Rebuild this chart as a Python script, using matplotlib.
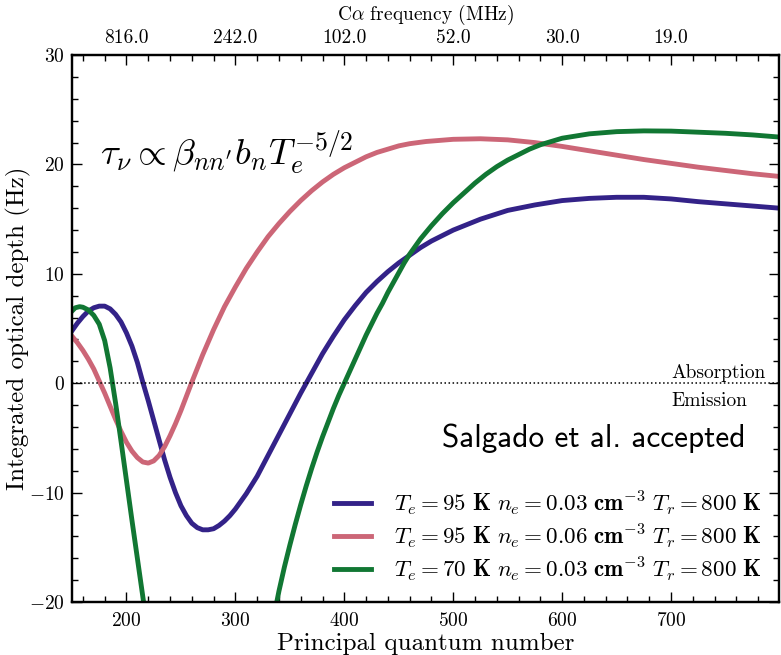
import matplotlib

matplotlib.use("Agg")
import matplotlib.pyplot as plt
import numpy as np
from matplotlib.ticker import MultipleLocator, FixedLocator

plt.rcParams["font.family"] = "cmr10"
plt.rcParams["mathtext.fontset"] = "cm"
plt.rcParams["axes.formatter.use_mathtext"] = True

# Te = 95 K, ne = 0.03
n_blue = [150, 155, 160, 165, 170, 175, 180, 185, 190, 195, 200, 205, 210, 215, 220,
          225, 230, 235, 240, 245, 250, 255, 260, 265, 270, 275, 280, 285, 290, 295,
          300, 310, 320, 330, 340, 350, 360, 370, 380, 390, 400, 410, 420, 430, 440,
          450, 460, 470, 480, 490, 500, 525, 550, 575, 600, 625, 650, 675, 700, 725,
          750, 775, 800]
tau_blue = [4.8, 5.5, 6.1, 6.6, 6.9, 7.05, 7.05, 6.8, 6.3, 5.6, 4.6, 3.4, 1.9, 0.1, -1.6,
            -3.4, -5.2, -7.0, -8.6, -10.0, -11.2, -12.1, -12.8, -13.2, -13.4, -13.4, -13.3, -13.0, -12.6, -12.1,
            -11.5, -10.1, -8.5, -6.6, -4.7, -2.8, -0.9, 0.9, 2.7, 4.3, 5.8, 7.1, 8.3, 9.3, 10.2,
            11.0, 11.7, 12.4, 13.0, 13.5, 14.0, 15.0, 15.8, 16.3, 16.7, 16.9, 17.0, 17.0, 16.85, 16.6,
            16.4, 16.2, 16.0]

# Te = 95 K, ne = 0.06
n_pink = [150, 155, 160, 165, 170, 175, 180, 185, 190, 195, 200, 205, 210, 215, 220,
          225, 230, 235, 240, 245, 250, 255, 260, 270, 280, 290, 300, 310, 320, 330,
          340, 350, 360, 370, 380, 390, 400, 410, 420, 430, 440, 450, 460, 475, 500,
          525, 550, 575, 600, 625, 650, 675, 700, 725, 750, 775, 800]
tau_pink = [4.3, 3.7, 3.0, 2.2, 1.3, 0.2, -0.9, -2.1, -3.3, -4.4, -5.4, -6.2, -6.8, -7.2, -7.3,
            -7.1, -6.6, -5.8, -4.8, -3.7, -2.5, -1.2, 0.1, 2.6, 4.9, 7.0, 8.8, 10.5, 12.0, 13.4,
            14.6, 15.7, 16.7, 17.6, 18.4, 19.1, 19.7, 20.2, 20.7, 21.1, 21.4, 21.7, 21.9, 22.1, 22.3,
            22.35, 22.25, 22.0, 21.65, 21.25, 20.85, 20.45, 20.1, 19.75, 19.45, 19.15, 18.9]

# Te = 70 K, ne = 0.03 (runs off the bottom between ~216 and ~338)
n_green = [150, 153, 157, 160, 165, 170, 175, 180, 185, 190, 195, 200, 205, 210, 215,
           220, 280, 335, 340, 345, 350, 355, 360, 365, 370, 375, 380, 385, 390, 395,
           400, 405, 410, 415, 420, 425, 430, 435, 440, 445, 450, 455, 460, 470, 480,
           490, 500, 510, 520, 530, 540, 550, 560, 570, 580, 590, 600, 625, 650, 675,
           700, 725, 750, 775, 800]
tau_green = [6.6, 6.9, 7.0, 6.95, 6.7, 6.2, 5.4, 3.9, 1.4, -1.8, -5.3, -8.9, -12.5, -16.0, -19.5,
             -23.0, np.nan, -21.5, -19.0, -16.8, -14.8, -12.9, -11.1, -9.4, -7.8, -6.3, -4.9, -3.6, -2.3, -1.1,
             0.0, 1.1, 2.2, 3.3, 4.4, 5.4, 6.4, 7.3, 8.3, 9.2, 10.1, 11.0, 11.8, 13.2, 14.4,
             15.5, 16.5, 17.4, 18.3, 19.1, 19.8, 20.4, 20.9, 21.4, 21.8, 22.1, 22.4, 22.8, 23.0, 23.07,
             23.05, 22.95, 22.85, 22.7, 22.5]

labels = [
    r"$T_e = 95\ \mathbf{K}\ n_e = 0.03\ \mathbf{cm}^{-3}\ T_r = 800\ \mathbf{K}$",
    r"$T_e = 95\ \mathbf{K}\ n_e = 0.06\ \mathbf{cm}^{-3}\ T_r = 800\ \mathbf{K}$",
    r"$T_e = 70\ \mathbf{K}\ n_e = 0.03\ \mathbf{cm}^{-3}\ T_r = 800\ \mathbf{K}$",
]
colors = ["#332288", "#CC6677", "#117733"]

top_ticks = [200, 300, 400, 500, 600, 700]
top_labels = ["816.0", "242.0", "102.0", "52.0", "30.0", "19.0"]

fig = plt.figure(figsize=(7.81, 6.55), dpi=100)
ax = fig.add_axes([0.0922, 0.0809, 0.9058, 0.835])

ax.plot(n_blue, tau_blue, color=colors[0], lw=3.5, label=labels[0])
ax.plot(n_pink, tau_pink, color=colors[1], lw=3.5, label=labels[1])
ax.plot(n_green, tau_green, color=colors[2], lw=3.5, label=labels[2])
ax.axhline(0, color="black", ls=":", lw=1.1)

ax.set_xlim(150, 799.5)
ax.set_ylim(-20, 30)
ax.xaxis.set_major_locator(MultipleLocator(100))
ax.xaxis.set_minor_locator(MultipleLocator(20))
ax.yaxis.set_major_locator(MultipleLocator(10))
ax.yaxis.set_minor_locator(MultipleLocator(2))
ax.tick_params(which="both", direction="in", right=True, labelsize=14)
ax.tick_params(which="major", length=7, width=1)
ax.tick_params(which="minor", length=4, width=1)
ax.tick_params(axis="x", pad=7)
ax.tick_params(axis="y", pad=5)
for s in ax.spines.values():
    s.set_linewidth(1.6)

ax.set_xlabel("Principal quantum number", fontsize=18, labelpad=2)
ax.set_ylabel("Integrated optical depth (Hz)", fontsize=18)
ax.yaxis.set_label_coords(-0.058, 0.5)

ax.text(0.04, 0.80, r"$\tau_\nu \propto \beta_{nn'} b_n T_e^{-5/2}$", transform=ax.transAxes,
        fontsize=26.5)
ax.text(700, 0.5, "Absorption", ha="left", va="baseline", fontsize=14)
ax.text(700, -0.8, "Emission", ha="left", va="top", fontsize=14)
ax.text(629, -5.0, "Salgado et al. accepted", ha="center", va="center",
        fontsize=22.5, family="cmss10")

leg = ax.legend(loc="lower right", frameon=False, fontsize=16.6, handlelength=1.6,
                labelspacing=0.2, borderaxespad=0.4, handletextpad=1.0)

top = ax.twiny()
top.set_xlim(ax.get_xlim())
top.xaxis.set_major_locator(FixedLocator(top_ticks))
top.set_xticklabels(top_labels)
top.xaxis.set_minor_locator(MultipleLocator(20))
top.tick_params(which="both", direction="in", labelsize=14, pad=6)
top.tick_params(which="major", length=7, width=1)
top.tick_params(which="minor", length=4, width=1)
top.set_xlabel(r"C$\alpha$ frequency (MHz)", fontsize=14)
top.xaxis.set_label_coords(0.5, 1.064)
for s in top.spines.values():
    s.set_linewidth(1.6)

fig.savefig("out.png", dpi=100)
